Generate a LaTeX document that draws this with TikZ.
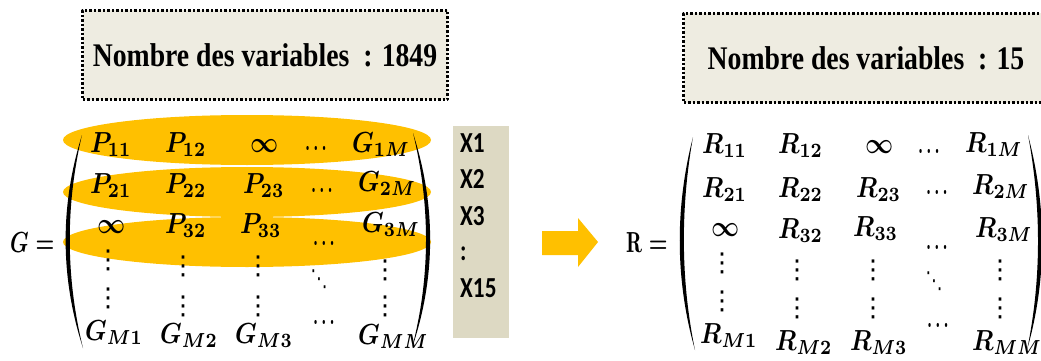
\documentclass[tikz,border=0pt]{standalone}
\usepackage{amsmath,amssymb}
\usepackage{fontspec}
\usepackage{graphicx}
\usepackage{tikz}
\usetikzlibrary{shapes.geometric}
\newfontfamily\timesfont{Liberation Serif}
\newfontfamily\calfont{Carlito}
\newfontfamily\symfont{DejaVu Sans}
\definecolor{jaune}{HTML}{FFC000}
\definecolor{beige}{HTML}{EEECE1}
\definecolor{grisb}{HTML}{DDD9C3}
\newcommand{\etroit}[1]{\scalebox{2.45}[2.9]{\boldmath$#1$}}
\newcommand{\titre}[1]{\scalebox{0.84}[1]{#1}}
\tikzset{
    boite/.style={draw, fill=beige, line width=2.5pt, line cap=butt,
        dash pattern=on 2.5pt off 2pt, minimum width=365pt,
        minimum height=89pt, inner sep=0pt,
        font=\timesfont\bfseries\fontsize{33}{36}\selectfont},
    ligne/.style={ellipse, fill=jaune, minimum width=368pt,
        minimum height=50pt, inner sep=0pt},
    entree/.style={anchor=base west, inner sep=0pt},
    hpts/.style={anchor=base west, inner sep=0pt},
    vpts/.style={anchor=base, inner sep=0pt,
        font=\symfont\fontsize{26}{28}\selectfont},
    xlab/.style={anchor=base west, inner sep=0pt,
        font=\calfont\bfseries\fontsize{29}{30}\selectfont}
}
\begin{document}
\begin{tikzpicture}[x=1pt,y=-1pt,line cap=round,line join=round]
\useasboundingbox (0,0) rectangle (1041,361);

% rows selected in G
\node[ligne] (ligne1) at (247,140) {};
\node[ligne] (ligne2) at (247,192) {};
\node[ligne] (ligne3) at (247,242) {};

% titles
\node[boite] (nb1849) at (265,55) {\titre{Nombre des variables\ \ : 1849}};
\node[boite] (nb15) at (866,58) {\titre{Nombre des variables\ \ : 15}};

% G =
\node[entree] (gegal) at (10,252) {\scalebox{2.1}[2.9]{\boldmath$G=$}};
\fill (82,135) .. controls (60,205) and (60,277) .. (83,348)
    .. controls (65.5,277) and (65.5,205) .. (82,135) -- cycle;
\fill (413,133) .. controls (436,205) and (436,277) .. (412,348)
    .. controls (430.5,277) and (430.5,205) .. (413,133) -- cycle;

\foreach \n/\x/\y/\t in {
    g11/90/152/P_{11},
    g12/165/152/P_{12},
    g13/250/152/\infty,
    g1m/352/152/G_{1M},
    g21/90/193/P_{21},
    g22/165/193/P_{22},
    g23/243/193/P_{23},
    g2m/358/191/G_{2M},
    g31/97/233/\infty,
    g32/165/233/P_{32},
    g33/240/233/P_{33},
    g3m/362/232/G_{3M},
    gm1/85/340/G_{M1},
    gm2/160/343/G_{M2},
    gm3/235/343/G_{M3},
    gmm/358/344/G_{MM}
}
{
    \node[entree] (\n) at (\x,\y) {\etroit{\t}};
}
\foreach \n/\x/\y in {
    gh1/305/150,
    gh2/311/192,
    gh3/313/245,
    gh4/313/324
}
{
    \node[hpts] (\n) at (\x,\y) {\scalebox{1.6}[2.6]{\boldmath$\ldots$}};
}
\foreach \n/\x/\y in {
    gv1/108/268, gv2/108/306,
    gv3/183/274, gv4/183/314,
    gv5/258/274, gv6/258/314,
    gv7/385/278, gv8/385/314
}
{
    \node[vpts] (\n) at (\x,\y) {⋮};
}
\node[vpts] (gd) at (319,286) {\scalebox{0.65}[0.9]{⋱}};

% variables
\node[fill=grisb, minimum width=56pt, minimum height=212pt,
    inner sep=0pt] (xcol) at (481,232) {};
\foreach \n/\y/\t in {
    x1/152/X1,
    x2/188/X2,
    x3/225/X3,
    xp/260/:,
    x15/297/X15
}
{
    \node[xlab] (\n) at (460,\y) {\scalebox{0.8}[1]{\t}};
}

% arrow
\fill[jaune] (542,231) -- (578,231) -- (578,218) -- (598,242)
    -- (578,267) -- (578,255) -- (542,255) -- cycle;

% R =
\node[entree] (regal) at (626,252) {\scalebox{2.1}[2.9]{\boldmath$\mathrm{R}=$}};
\fill (693,137) .. controls (675,207) and (675,280) .. (695,350)
    .. controls (680.5,280) and (680.5,207) .. (693,137) -- cycle;
\fill (1028,135) .. controls (1047,207) and (1047,280) .. (1027,350)
    .. controls (1041.5,280) and (1041.5,207) .. (1028,135) -- cycle;

\foreach \n/\x/\y/\t in {
    r11/702/153/R_{11},
    r12/778/153/R_{12},
    r13/865/153/\infty,
    r1m/965/152/R_{1M},
    r21/702/197/R_{21},
    r22/778/197/R_{22},
    r23/856/197/R_{23},
    r2m/972/194/R_{2M},
    r31/711/236/\infty,
    r32/778/238/R_{32},
    r33/853/236/R_{33},
    r3m/975/237/R_{3M},
    rm1/700/343/R_{M1},
    rm2/775/350/R_{M2},
    rm3/850/350/R_{M3},
    rmm/972/350/R_{MM}
}
{
    \node[entree] (\n) at (\x,\y) {\etroit{\t}};
}
\foreach \n/\x/\y in {
    rh1/918/153,
    rh2/926/194,
    rh3/926/249,
    rh4/927/327
}
{
    \node[hpts] (\n) at (\x,\y) {\scalebox{1.6}[2.6]{\boldmath$\ldots$}};
}
\foreach \n/\x/\y in {
    rv1/722/271, rv2/722/309,
    rv3/797/278, rv4/797/316,
    rv5/873/278, rv6/873/316,
    rv7/1000/278, rv8/1000/316
}
{
    \node[vpts] (\n) at (\x,\y) {⋮};
}
\node[vpts] (rd) at (934,288) {\scalebox{0.65}[0.9]{⋱}};
\end{tikzpicture}
\end{document}
